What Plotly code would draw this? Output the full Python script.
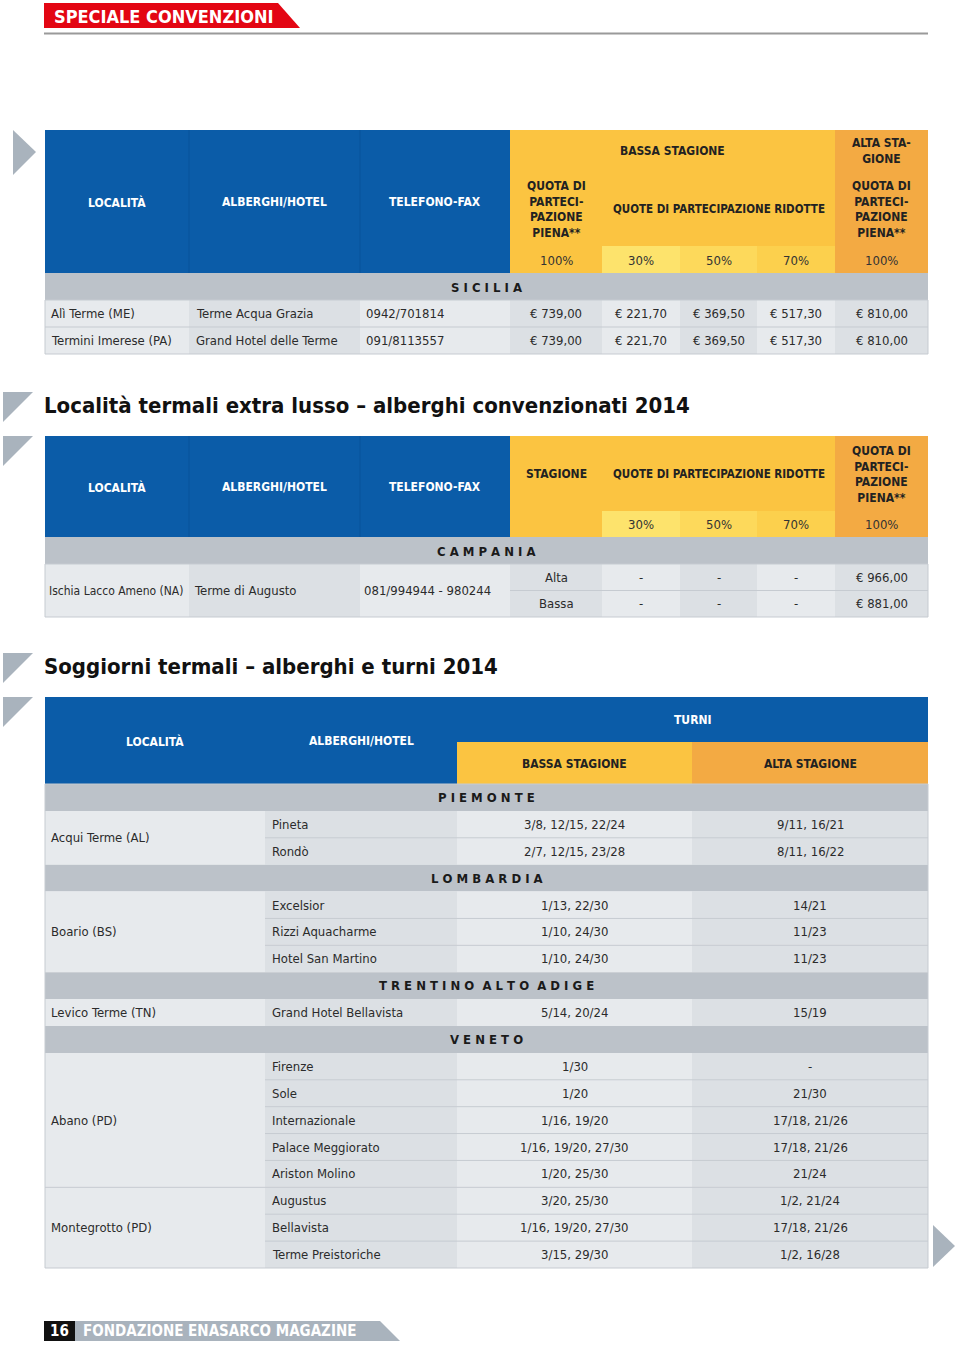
import plotly.graph_objects as go

# ---------------- DATA ----------------
page_header = "SPECIALE CONVENZIONI"
footer_page = "16"
footer_text = "FONDAZIONE ENASARCO MAGAZINE"

# Table 1 (Sicilia)
t1_headers_blue = ["LOCALITÀ", "ALBERGHI/HOTEL", "TELEFONO-FAX"]
t1_region = "SICILIA"
t1_localita = ["Alì Terme (ME)", "Termini Imerese (PA)"]
t1_hotel = ["Terme Acqua Grazia", "Grand Hotel delle Terme"]
t1_tel = ["0942/701814", "091/8113557"]
t1_piena_bassa = [739.00, 739.00]
t1_rid30 = [221.70, 221.70]
t1_rid50 = [369.50, 369.50]
t1_rid70 = [517.30, 517.30]
t1_piena_alta = [810.00, 810.00]
pct_labels = ["100%", "30%", "50%", "70%", "100%"]

# Table 2 (Campania)
title2 = "Località termali extra lusso – alberghi convenzionati 2014"
t2_region = "CAMPANIA"
t2_localita = "Ischia Lacco Ameno (NA)"
t2_hotel = "Terme di Augusto"
t2_tel = "081/994944 - 980244"
t2_stagione = ["Alta", "Bassa"]
t2_rid30 = ["-", "-"]
t2_rid50 = ["-", "-"]
t2_rid70 = ["-", "-"]
t2_piena = [966.00, 881.00]

# Table 3 (turni)
title3 = "Soggiorni termali – alberghi e turni 2014"
t3_region = ["PIEMONTE", "PIEMONTE", "LOMBARDIA", "LOMBARDIA", "LOMBARDIA",
             "TRENTINO ALTO ADIGE", "VENETO", "VENETO", "VENETO", "VENETO",
             "VENETO", "VENETO", "VENETO", "VENETO"]
t3_localita = ["Acqui Terme (AL)", "Acqui Terme (AL)", "Boario (BS)", "Boario (BS)",
               "Boario (BS)", "Levico Terme (TN)", "Abano (PD)", "Abano (PD)",
               "Abano (PD)", "Abano (PD)", "Abano (PD)", "Montegrotto (PD)",
               "Montegrotto (PD)", "Montegrotto (PD)"]
t3_hotel = ["Pineta", "Rondò", "Excelsior", "Rizzi Aquacharme", "Hotel San Martino",
            "Grand Hotel Bellavista", "Firenze", "Sole", "Internazionale",
            "Palace Meggiorato", "Ariston Molino", "Augustus", "Bellavista",
            "Terme Preistoriche"]
t3_bassa = ["3/8, 12/15, 22/24", "2/7, 12/15, 23/28", "1/13, 22/30", "1/10, 24/30",
            "1/10, 24/30", "5/14, 20/24", "1/30", "1/20", "1/16, 19/20",
            "1/16, 19/20, 27/30", "1/20, 25/30", "3/20, 25/30", "1/16, 19/20, 27/30",
            "3/15, 29/30"]
t3_alta = ["9/11, 16/21", "8/11, 16/22", "14/21", "11/23", "11/23", "15/19", "-",
           "21/30", "17/18, 21/26", "17/18, 21/26", "21/24", "1/2, 21/24",
           "17/18, 21/26", "1/2, 16/28"]

# ---------------- STYLE ----------------
FONT = "DejaVu Sans Condensed, Liberation Sans Narrow, Roboto, sans-serif"
BLUE = "#0B5CA8"
BLUE_SEP = "#08529A"
YELLOW = "#FBC441"
Y30 = "#FDE36C"
Y50 = "#FDD95B"
Y70 = "#FCD04D"
ORANGE = "#F3AA43"
REGION = "#BCC2C9"
LIGHT = "#E7EAED"
DARKC = "#DCE0E4"
SEP = "#C6CBD1"
TXT = "#2B2B2B"
WHITE = "#FFFFFF"
TRI = "#A9B3BD"
RED = "#E30613"
HS = 12      # header font size
DS = 13      # data font size

shapes = []
ann = []


def rect(x0, y0, x1, y1, color):
    shapes.append(dict(type="rect", xref="x", yref="y", x0=x0, y0=y0, x1=x1, y1=y1,
                       fillcolor=color, line=dict(width=0), layer="below"))


def outline(x0, y0, x1, y1, color):
    shapes.append(dict(type="rect", xref="x", yref="y", x0=x0, y0=y0, x1=x1, y1=y1,
                       fillcolor="rgba(0,0,0,0)", line=dict(width=1, color=color)))


def poly(pts, color):
    path = "M " + " L ".join(f"{x},{y}" for x, y in pts) + " Z"
    shapes.append(dict(type="path", xref="x", yref="y", path=path, fillcolor=color,
                       line=dict(width=0), layer="below"))


def hline(x0, x1, y, color, w=1):
    shapes.append(dict(type="line", xref="x", yref="y", x0=x0, x1=x1, y0=y, y1=y,
                       line=dict(color=color, width=w)))


def vline(x, y0, y1, color, w=1):
    shapes.append(dict(type="line", xref="x", yref="y", x0=x, x1=x, y0=y0, y1=y1,
                       line=dict(color=color, width=w)))


def text(x, y, s, size=DS, color=TXT, bold=False, anchor="center"):
    ann.append(dict(x=x, y=y, xref="x", yref="y", text=(f"<b>{s}</b>" if bold else s),
                    showarrow=False, xanchor=anchor, yanchor="middle", align="center",
                    font=dict(family=FONT, size=size, color=color)))


def spaced(s):
    words = s.split(" ")
    return "\u00a0\u00a0".join("\u00a0".join(list(w)) for w in words)


def euro(v):
    return "€ " + f"{v:.2f}".replace(".", ",")


def mid(a, b):
    return (a + b) / 2


# ---------------- PAGE HEADER ----------------
poly([(44, 3), (278, 3), (300, 28), (44, 28)], RED)
text(52, 16, page_header, 18, WHITE, True, "left")
hline(44, 928, 33.5, "#9A9A9A", 2)

# ---------------- TABLE 1 ----------------
X = [45, 189, 360, 510, 602, 680, 757, 835, 928]
top, hb = 130, 273
poly([(13, 130), (36, 152), (13, 175)], TRI)
rect(X[0], top, X[3], hb, BLUE)
rect(X[3], top, X[7], hb, YELLOW)
rect(X[7], top, X[8], hb, ORANGE)
rect(X[4], 246, X[5], hb, Y30)
rect(X[5], 246, X[6], hb, Y50)
rect(X[6], 246, X[7], hb, Y70)
vline(X[1], top, hb, BLUE_SEP)
vline(X[2], top, hb, BLUE_SEP)
for i, h in enumerate(t1_headers_blue):
    text(mid(X[i], X[i + 1]), 202, h, HS, WHITE, True)
quota = "QUOTA DI<br>PARTECI-<br>PAZIONE<br>PIENA**"
text(mid(X[3], X[7]), 151, "BASSA STAGIONE", HS, "#222", True)
text(mid(X[7], X[8]), 151, "ALTA STA-<br>GIONE", HS, "#222", True)
text(mid(X[3], X[4]), 209, quota, HS, "#222", True)
text(mid(X[4], X[7]), 209, "QUOTE DI PARTECIPAZIONE RIDOTTE", 11.5, "#222", True)
text(mid(X[7], X[8]), 209, quota, HS, "#222", True)
for k, c in enumerate([3, 4, 5, 6, 7]):
    text(mid(X[c], X[c + 1]), 260, pct_labels[k], DS, "#333")
rect(X[0], 273, X[8], 300, REGION)
text(486.5, 287, spaced(t1_region), 13, "#1A1A1A", True)
RH = 27
for r in range(len(t1_localita)):
    y0 = 300 + r * RH
    for c in range(8):
        rect(X[c], y0, X[c + 1], y0 + RH, LIGHT if c % 2 == 0 else DARKC)
    yc = y0 + RH / 2
    text(X[0] + 4, yc, t1_localita[r], DS, TXT, False, "left")
    text(X[1] + 5, yc, t1_hotel[r], DS, TXT, False, "left")
    text(X[2] + 4, yc, t1_tel[r], DS, TXT, False, "left")
    vals = [t1_piena_bassa[r], t1_rid30[r], t1_rid50[r], t1_rid70[r], t1_piena_alta[r]]
    for k, v in enumerate(vals):
        text(mid(X[3 + k], X[4 + k]), yc, euro(v), DS, TXT)
    if r > 0:
        hline(X[0], X[8], y0, SEP)
outline(X[0], 300, X[8], 300 + RH * len(t1_localita), SEP)

# ---------------- TITLE 2 + TABLE 2 ----------------
poly([(3, 392), (33, 392), (3, 422)], TRI)
text(42, 405, title2, 22, "#111", True, "left")
top2, hb2 = 436, 537
poly([(3, 436), (33, 436), (3, 466)], TRI)
rect(X[0], top2, X[3], hb2, BLUE)
rect(X[3], top2, X[7], hb2, YELLOW)
rect(X[7], top2, X[8], hb2, ORANGE)
rect(X[4], 511, X[5], hb2, Y30)
rect(X[5], 511, X[6], hb2, Y50)
rect(X[6], 511, X[7], hb2, Y70)
vline(X[1], top2, hb2, BLUE_SEP)
vline(X[2], top2, hb2, BLUE_SEP)
for i, h in enumerate(t1_headers_blue):
    text(mid(X[i], X[i + 1]), 487, h, HS, WHITE, True)
text(mid(X[3], X[4]), 474, "STAGIONE", HS, "#222", True)
text(mid(X[4], X[7]), 474, "QUOTE DI PARTECIPAZIONE RIDOTTE", 11.5, "#222", True)
text(mid(X[7], X[8]), 474, quota, HS, "#222", True)
for k, c in enumerate([4, 5, 6, 7]):
    text(mid(X[c], X[c + 1]), 524, pct_labels[k + 1], DS, "#333")
rect(X[0], 537, X[8], 564, REGION)
text(486.5, 551, spaced(t2_region), 13, "#1A1A1A", True)
d0 = 564
n2 = len(t2_stagione)
RH2 = 26.5
for c in range(3):
    rect(X[c], d0, X[c + 1], d0 + n2 * RH2, LIGHT if c % 2 == 0 else DARKC)
yc = d0 + n2 * RH2 / 2
text(X[0] + 2, yc, t2_localita, 12, TXT, False, "left")
text(X[1] + 3, yc, t2_hotel, DS, TXT, False, "left")
text(X[2] + 2, yc, t2_tel, DS, TXT, False, "left")
for r in range(n2):
    y0 = d0 + r * RH2
    for c in range(3, 8):
        rect(X[c], y0, X[c + 1], y0 + RH2, LIGHT if c % 2 == 0 else DARKC)
    yy = y0 + RH2 / 2
    vals = [t2_stagione[r], t2_rid30[r], t2_rid50[r], t2_rid70[r], euro(t2_piena[r])]
    for k, v in enumerate(vals):
        text(mid(X[3 + k], X[4 + k]), yy, v, DS, TXT)
    if r > 0:
        hline(X[3], X[8], y0, SEP)
outline(X[0], d0, X[8], d0 + n2 * RH2, SEP)

# ---------------- TITLE 3 + TABLE 3 ----------------
poly([(3, 653), (33, 653), (3, 683)], TRI)
text(42, 666, title3, 22, "#111", True, "left")
poly([(3, 697), (33, 697), (3, 727)], TRI)
X3 = [45, 265, 457, 692, 928]
rect(X3[0], 697, X3[2], 784, BLUE)
rect(X3[2], 697, X3[4], 742, BLUE)
rect(X3[2], 742, X3[3], 784, YELLOW)
rect(X3[3], 742, X3[4], 784, ORANGE)
text(mid(X3[0], X3[1]), 741, "LOCALITÀ", HS, WHITE, True)
text(mid(X3[1], X3[2]), 741, "ALBERGHI/HOTEL", HS, WHITE, True)
text(mid(X3[2], X3[4]), 720, "TURNI", HS, WHITE, True)
text(mid(X3[2], X3[3]), 764, "BASSA STAGIONE", HS, "#222", True)
text(mid(X3[3], X3[4]), 764, "ALTA STAGIONE", HS, "#222", True)

RH3 = (1268 - 784) / 18
y = 784.0
prev_region = None
i = 0
n = len(t3_hotel)
while i < n:
    reg = t3_region[i]
    if reg != prev_region:
        rect(X3[0], y, X3[4], y + RH3, REGION)
        text(486.5, y + RH3 / 2, spaced(reg), 13, "#1A1A1A", True)
        y += RH3
        prev_region = reg
    else:
        hline(X3[0], X3[4], y, SEP)
    j = i
    while j < n and t3_localita[j] == t3_localita[i] and t3_region[j] == reg:
        j += 1
    k = j - i
    rect(X3[0], y, X3[1], y + k * RH3, LIGHT)
    text(X3[0] + 4, y + k * RH3 / 2, t3_localita[i], DS, TXT, False, "left")
    for m in range(i, j):
        yy = y + (m - i) * RH3
        rect(X3[1], yy, X3[2], yy + RH3, DARKC)
        rect(X3[2], yy, X3[3], yy + RH3, LIGHT)
        rect(X3[3], yy, X3[4], yy + RH3, DARKC)
        if m > i:
            hline(X3[1], X3[4], yy, SEP)
        yc = yy + RH3 / 2
        text(X3[1] + 5, yc, t3_hotel[m], DS, TXT, False, "left")
        text(mid(X3[2], X3[3]), yc, t3_bassa[m], DS, TXT)
        text(mid(X3[3], X3[4]), yc, t3_alta[m], DS, TXT)
    y += k * RH3
    i = j
outline(X3[0], 784, X3[4], 1268, SEP)
poly([(933, 1225), (955, 1246), (933, 1267)], TRI)

# ---------------- FOOTER ----------------
rect(44, 1321, 75, 1341, "#111111")
text(59.5, 1331, footer_page, 15, WHITE, True)
poly([(75, 1321), (380, 1321), (400, 1341), (75, 1341)], "#A9B3BD")
text(81, 1331, footer_text, 15, WHITE, True, "left")

# ---------------- FIGURE ----------------
fig = go.Figure()
fig.update_layout(
    width=960, height=1345,
    margin=dict(l=0, r=0, t=0, b=0),
    paper_bgcolor="white", plot_bgcolor="white",
    xaxis=dict(range=[0, 960], visible=False, fixedrange=True),
    yaxis=dict(range=[1345, 0], visible=False, fixedrange=True),
    shapes=shapes, annotations=ann, showlegend=False,
)
fig.write_html("out.html", config={"displayModeBar": False},
               post_script="document.body.style.margin='0px';document.body.style.overflow='hidden';")
